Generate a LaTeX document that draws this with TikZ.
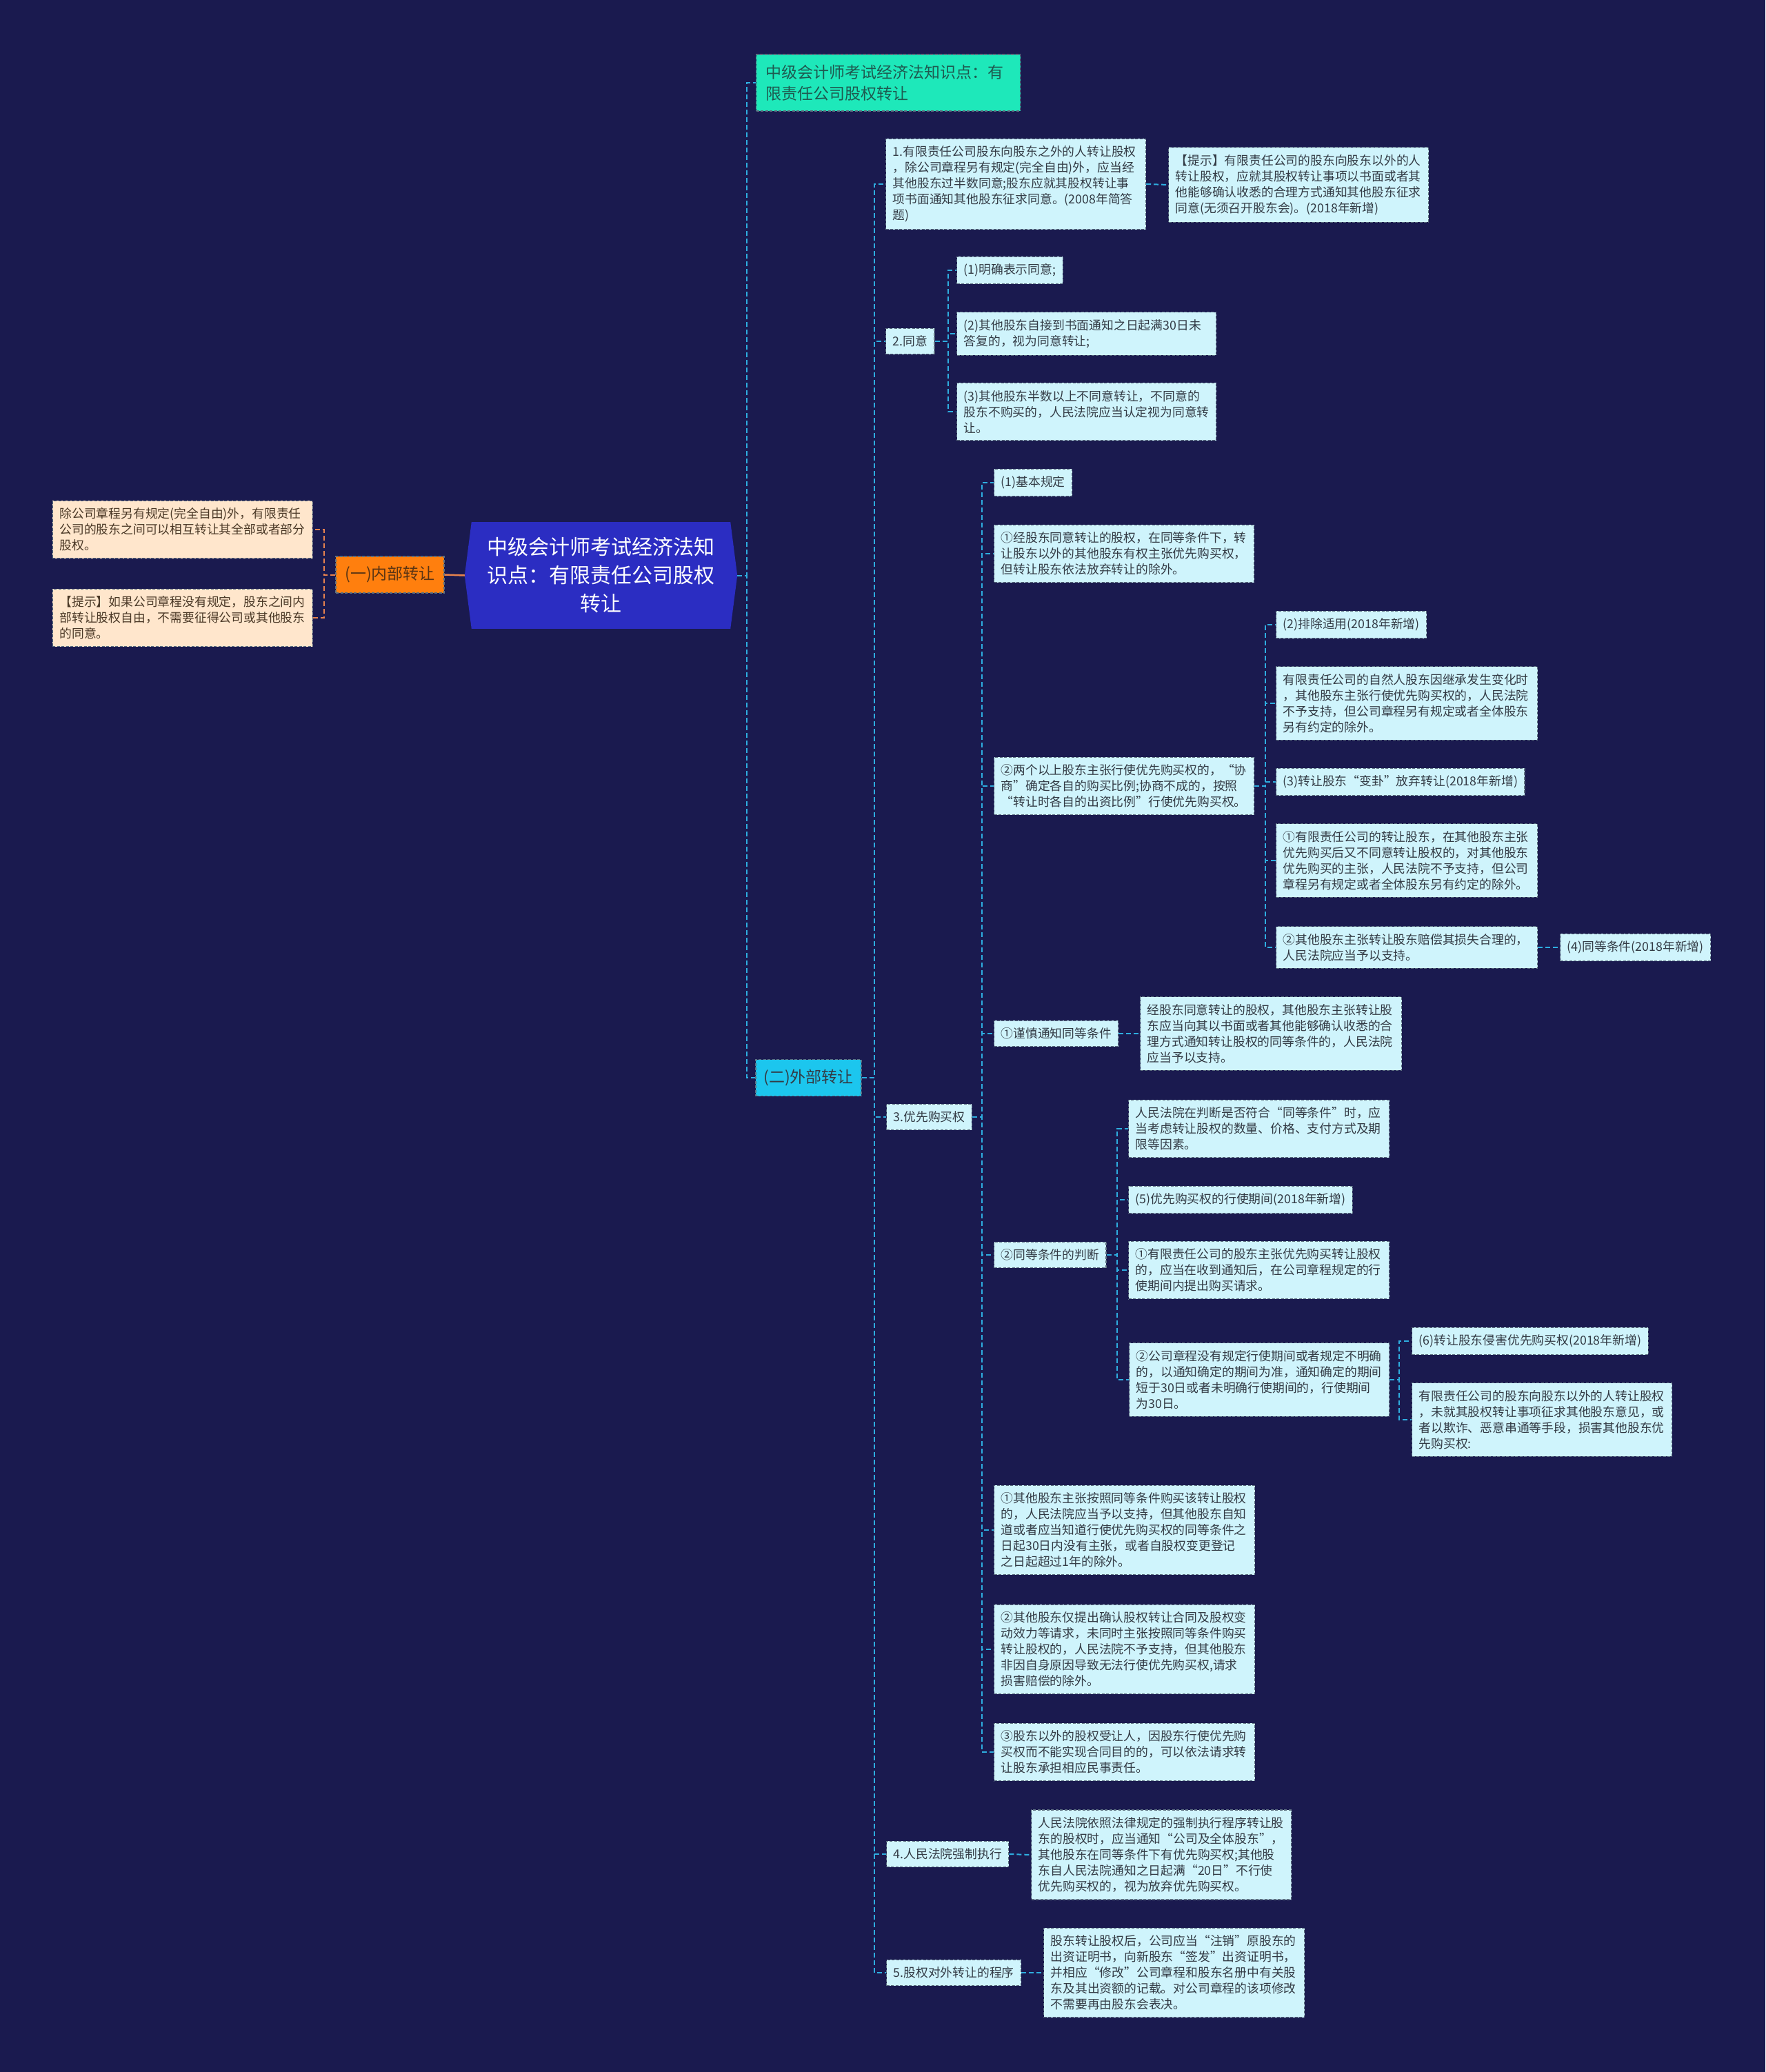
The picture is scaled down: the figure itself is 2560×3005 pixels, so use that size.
\documentclass[tikz,border=0pt]{standalone}
\usepackage{fontspec}
\setmainfont{Noto Sans CJK SC}
\usepackage{xcolor}
\usepackage{tikz}
\definecolor{STNavy}{HTML}{1A1A4F}
\definecolor{STRoot}{HTML}{2B2DC2}
\definecolor{STTitle}{HTML}{1EE8BA}
\definecolor{STTitleInk}{HTML}{1E5A50}
\definecolor{STOuter}{HTML}{1CC6EE}
\definecolor{STOrange}{HTML}{FF7F0E}
\definecolor{STOrangeInk}{HTML}{5A3414}
\definecolor{STPeach}{HTML}{FFE6CC}
\definecolor{STPeachInk}{HTML}{4A3826}
\definecolor{STLeaf}{HTML}{CFF4FC}
\definecolor{STInk}{HTML}{333B45}
\definecolor{STEdge}{HTML}{5C6F80}
\definecolor{STLink}{HTML}{2EAEE0}
\definecolor{STLinkOr}{HTML}{E8834E}

\begin{document}
\begin{tikzpicture}[x=1pt,y=-1pt,
  leaf/.style={anchor=west,fill=STLeaf,draw=STEdge,line width=1.2pt,dash pattern=on 4pt off 2.5pt,
    text=STInk,font=\fontsize{17.8}{23}\selectfont,inner xsep=10pt,inner ysep=10.5pt,align=left},
  peach/.style={leaf,anchor=east,fill=STPeach,text=STPeachInk},
  titlebox/.style={anchor=west,fill=STTitle,draw=STEdge,line width=1.2pt,dash pattern=on 4pt off 2.5pt,
    text=STTitleInk,font=\fontsize{23}{30.6}\selectfont,text width=355pt,inner xsep=14pt,
    minimum height=82pt,align=left},
  branch/.style={fill=#1,draw=STEdge,line width=1.2pt,dash pattern=on 4pt off 2.5pt,
    font=\fontsize{23}{30}\selectfont,inner sep=0pt,minimum height=53pt},
  rootbox/.style={fill=STRoot,text=white,font=\fontsize{30}{41}\selectfont,minimum width=375pt,
    minimum height=155pt,inner sep=0pt,align=center},
  link/.style={STLink,line width=2pt,dash pattern=on 7pt off 4pt},
  linkor/.style={STLinkOr,line width=2pt,dash pattern=on 7pt off 4pt}]
\fill[STNavy] (0,0) rectangle (2560,3005);
\path[use as bounding box] (0,0) rectangle (2560,3005);

% centre
\node (root) [rootbox] at (871.5,834.5) {中级会计师考试经济法知\\识点：有限责任公司股权\\转让};
\fill[STRoot] (root.north west) -- ([xshift=-10pt]root.west) -- (root.south west) -- cycle;
\fill[STRoot] (root.north east) -- ([xshift=10pt]root.east) -- (root.south east) -- cycle;
\coordinate (rootL) at ([xshift=-10pt]root.west);
\coordinate (rootR) at ([xshift=10pt]root.east);

% left: internal transfer
\node (inner) [branch=STOrange,text=STOrangeInk,minimum width=157pt] at (565.5,833.5) {(一)内部转让};
\node (L1) [peach,text width=357pt] at (454,768) {除公司章程另有规定(完全自由)外，有限责任\\公司的股东之间可以相互转让其全部或者部分\\股权。};
\node (L2) [peach,text width=357pt] at (454,896) {【提示】如果公司章程没有规定，股东之间内\\部转让股权自由，不需要征得公司或其他股东\\的同意。};

% right: title and external transfer
\node (title) [titlebox] at (1096,120) {中级会计师考试经济法知识点：有\\限责任公司股权转让};
\node (outer) [branch=STOuter,text=STInk,minimum width=153pt] at (1172.5,1563) {(二)外部转让};

\node (N1) [leaf,text width=357pt] at (1284,267) {1.有限责任公司股东向股东之外的人转让股权\\，除公司章程另有规定(完全自由)外，应当经\\其他股东过半数同意;股东应就其股权转让事\\项书面通知其他股东征求同意。(2008年简答\\题)};
\node (H1) [leaf,text width=357pt] at (1694,268) {【提示】有限责任公司的股东向股东以外的人\\转让股权，应就其股权转让事项以书面或者其\\他能够确认收悉的合理方式通知其他股东征求\\同意(无须召开股东会)。(2018年新增)};

\node (N2) [leaf] at (1284,495) {2.同意};
\node (N2a) [leaf] at (1387,392) {(1)明确表示同意;};
\node (N2b) [leaf,text width=356pt] at (1387,484) {(2)其他股东自接到书面通知之日起满30日未\\答复的，视为同意转让;};
\node (N2c) [leaf,text width=356pt] at (1387,597) {(3)其他股东半数以上不同意转让，不同意的\\股东不购买的，人民法院应当认定视为同意转\\让。};

\node (N3) [leaf] at (1285,1620) {3.优先购买权};
\node (N3a) [leaf] at (1441,700) {(1)基本规定};
\node (N3b) [leaf,text width=357pt] at (1441,803) {①经股东同意转让的股权，在同等条件下，转\\让股东以外的其他股东有权主张优先购买权，\\但转让股东依法放弃转让的除外。};
\node (N3c) [leaf,text width=357pt] at (1441,1140) {②两个以上股东主张行使优先购买权的，“协\\商”确定各自的购买比例;协商不成的，按照\\“转让时各自的出资比例”行使优先购买权。};
\node (P1) [leaf] at (1850,906) {(2)排除适用(2018年新增)};
\node (P2) [leaf,text width=359pt] at (1850,1020) {有限责任公司的自然人股东因继承发生变化时\\，其他股东主张行使优先购买权的，人民法院\\不予支持，但公司章程另有规定或者全体股东\\另有约定的除外。};
\node (P3) [leaf] at (1850,1134) {(3)转让股东“变卦”放弃转让(2018年新增)};
\node (P4) [leaf,text width=359pt] at (1850,1248) {①有限责任公司的转让股东，在其他股东主张\\优先购买后又不同意转让股权的，对其他股东\\优先购买的主张，人民法院不予支持，但公司\\章程另有规定或者全体股东另有约定的除外。};
\node (P5) [leaf,text width=359pt] at (1850,1374) {②其他股东主张转让股东赔偿其损失合理的，\\人民法院应当予以支持。};
\node (P5a) [leaf] at (2262,1374) {(4)同等条件(2018年新增)};
\node (N3d) [leaf] at (1441,1499) {①谨慎通知同等条件};
\node (N3dc) [leaf,text width=359pt] at (1653,1499) {经股东同意转让的股权，其他股东主张转让股\\东应当向其以书面或者其他能够确认收悉的合\\理方式通知转让股权的同等条件的，人民法院\\应当予以支持。};
\node (N3e) [leaf] at (1441,1820) {②同等条件的判断};
\node (Q1) [leaf,text width=358pt] at (1636,1637) {人民法院在判断是否符合“同等条件”时，应\\当考虑转让股权的数量、价格、支付方式及期\\限等因素。};
\node (Q2) [leaf] at (1636,1740) {(5)优先购买权的行使期间(2018年新增)};
\node (Q3) [leaf,text width=358pt] at (1636,1842) {①有限责任公司的股东主张优先购买转让股权\\的，应当在收到通知后，在公司章程规定的行\\使期间内提出购买请求。};
\node (Q4) [leaf,text width=357pt] at (1637,2001) {②公司章程没有规定行使期间或者规定不明确\\的，以通知确定的期间为准，通知确定的期间\\短于30日或者未明确行使期间的，行使期间\\为30日。};
\node (Q4a) [leaf] at (2047,1945) {(6)转让股东侵害优先购买权(2018年新增)};
\node (Q4b) [leaf,text width=357pt] at (2047,2059) {有限责任公司的股东向股东以外的人转让股权\\，未就其股权转让事项征求其他股东意见，或\\者以欺诈、恶意串通等手段，损害其他股东优\\先购买权:};
\node (N3f) [leaf,text width=358pt] at (1441,2219) {①其他股东主张按照同等条件购买该转让股权\\的，人民法院应当予以支持，但其他股东自知\\道或者应当知道行使优先购买权的同等条件之\\日起30日内没有主张，或者自股权变更登记\\之日起超过1年的除外。};
\node (N3g) [leaf,text width=358pt] at (1441,2392) {②其他股东仅提出确认股权转让合同及股权变\\动效力等请求，未同时主张按照同等条件购买\\转让股权的，人民法院不予支持，但其他股东\\非因自身原因导致无法行使优先购买权,请求\\损害赔偿的除外。};
\node (N3h) [leaf,text width=358pt] at (1441,2541) {③股东以外的股权受让人，因股东行使优先购\\买权而不能实现合同目的的，可以依法请求转\\让股东承担相应民事责任。};

\node (N4) [leaf] at (1285,2689) {4.人民法院强制执行};
\node (N4c) [leaf,text width=357pt] at (1495,2690) {人民法院依照法律规定的强制执行程序转让股\\东的股权时，应当通知“公司及全体股东”，\\其他股东在同等条件下有优先购买权;其他股\\东自人民法院通知之日起满“20日”不行使\\优先购买权的，视为放弃优先购买权。};
\node (N5) [leaf] at (1285,2861) {5.股权对外转让的程序};
\node (N5c) [leaf,text width=358pt] at (1513,2861) {股东转让股权后，公司应当“注销”原股东的\\出资证明书，向新股东“签发”出资证明书，\\并相应“修改”公司章程和股东名册中有关股\\东及其出资额的记载。对公司章程的该项修改\\不需要再由股东会表决。};

% bus lines
\coordinate (busL) at (470,0);
\coordinate (busT) at (1083,0);
\coordinate (busO) at (1268,0);
\coordinate (bus2) at (1375,0);
\coordinate (bus3) at (1424,0);
\coordinate (bus3c) at (1835,0);
\coordinate (bus3e) at (1620,0);
\coordinate (busQ4) at (2029,0);

% connectors
\draw[STLinkOr,line width=2.5pt] (rootL) -- (inner.east);
\foreach \c in {L1,L2}
  \draw[linkor] (inner.west) -- (inner.west -| busL) |- (\c.east);
\draw[link] (rootR) -- (rootR -| busT) |- (title.west);
\draw[link] (rootR) -- (rootR -| busT) |- (outer.west);
\foreach \c in {N1,N2,N3,N4,N5}
  \draw[link] (outer.east) -- (outer.east -| busO) |- (\c.west);
\draw[link] (N1.east) -- (H1.west);
\foreach \c in {N2a,N2b,N2c}
  \draw[link] (N2.east) -- (N2.east -| bus2) |- (\c.west);
\foreach \c in {N3a,N3b,N3c,N3d,N3e,N3f,N3g,N3h}
  \draw[link] (N3.east) -- (N3.east -| bus3) |- (\c.west);
\foreach \c in {P1,P2,P3,P4,P5}
  \draw[link] (N3c.east) -- (N3c.east -| bus3c) |- (\c.west);
\draw[link] (P5.east) -- (P5a.west);
\draw[link] (N3d.east) -- (N3dc.west);
\foreach \c in {Q1,Q2,Q3,Q4}
  \draw[link] (N3e.east) -- (N3e.east -| bus3e) |- (\c.west);
\foreach \c in {Q4a,Q4b}
  \draw[link] (Q4.east) -- (Q4.east -| busQ4) |- (\c.west);
\draw[link] (N4.east) -- (N4c.west);
\draw[link] (N5.east) -- (N5c.west);
\end{tikzpicture}
\end{document}
